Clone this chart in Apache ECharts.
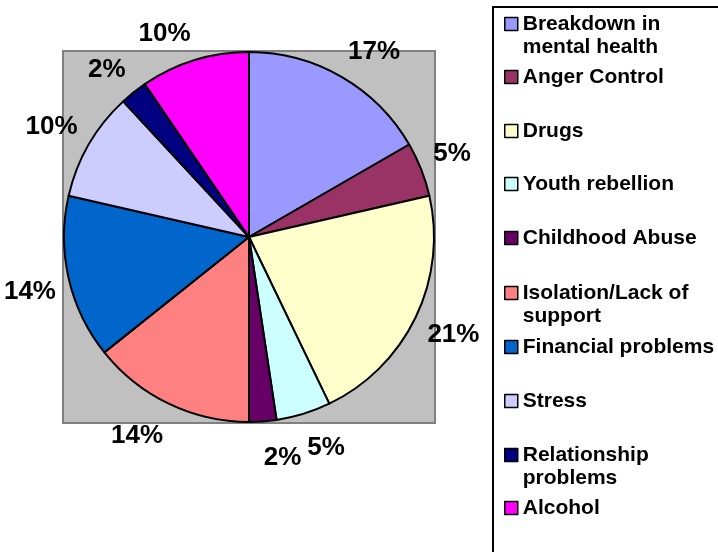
<!DOCTYPE html>
<html>
<head>
<meta charset="utf-8">
<script src="https://cdn.jsdelivr.net/npm/echarts@6/dist/echarts.min.js"></script>
<style>
  html, body { margin: 0; padding: 0; background: #ffffff; }
  #chart { width: 718px; height: 552px; }
</style>
</head>
<body>
<div id="chart"></div>
<script>
// Causes, in clockwise order from 12 o'clock
const categories = [
  'Breakdown in mental health',
  'Anger Control',
  'Drugs',
  'Youth rebellion',
  'Childhood Abuse',
  'Isolation/Lack of support',
  'Financial problems',
  'Stress',
  'Relationship problems',
  'Alcohol'
];

// Number of responses per cause (42 in total)
const responses = [7, 2, 9, 2, 1, 6, 6, 4, 1, 4];

// Legend text, wrapped the way it is printed
const legendText = [
  'Breakdown in\nmental health',
  'Anger Control',
  'Drugs',
  'Youth rebellion',
  'Childhood Abuse',
  'Isolation/Lack of\nsupport',
  'Financial problems',
  'Stress',
  'Relationship\nproblems',
  'Alcohol'
];

const palette = [
  '#9999FF', '#993366', '#FFFFCC', '#CCFFFF', '#660066',
  '#FF8080', '#0066CC', '#CCCCFF', '#000080', '#FF00FF'
];

// Layout
const CX = 249, CY = 237, R = 185;
const LABEL_GAP = 13;              // distance of the label corner beyond the rim
const STRETCH_UP = 5;              // extra push for labels above the pie
const STRETCH_DOWN = 14;           // extra push for labels below the pie
const LEGEND_X = 504;
const LEGEND_ROWS = [24, 77, 131, 184, 238, 293, 347, 401, 455, 508];
const LINE_H = 23;
const FONT = '"Liberation Sans", Arial, sans-serif';

const pieData = categories.map((name, i) => ({
  name: name,
  value: responses[i],
  itemStyle: { color: palette[i] }
}));

// One legend block per entry so wrapped names keep the marker on the first line
const legends = categories.map((name, i) => {
  const lines = legendText[i].split('\n');
  const text = lines.length > 1 ? '\n' + legendText[i] : legendText[i];
  const boxH = (lines.length > 1 ? 3 : 1) * LINE_H;
  return {
    data: [name],
    orient: 'vertical',
    left: LEGEND_X,
    top: LEGEND_ROWS[i] - boxH / 2,
    padding: 0,
    itemWidth: 13,
    itemHeight: 13,
    icon: 'rect',
    selectedMode: false,
    itemStyle: { borderColor: '#000000', borderWidth: 1.5 },
    formatter: () => text,
    textStyle: {
      fontFamily: FONT,
      fontWeight: 'bold',
      fontSize: 21,
      lineHeight: LINE_H,
      color: '#000000'
    }
  };
});

const chart = echarts.init(document.getElementById('chart'), null, { renderer: 'canvas' });

chart.setOption({
  backgroundColor: '#ffffff',
  animation: false,
  graphic: [
    {
      // plot area
      type: 'rect',
      z: 0,
      shape: { x: CX - R - 1, y: CY - R - 1, width: 2 * R + 2, height: 2 * R + 2 },
      style: { fill: '#C0C0C0', stroke: '#808080', lineWidth: 2 }
    },
    {
      // legend frame
      type: 'rect',
      z: 0,
      shape: { x: 493, y: 7, width: 260, height: 600 },
      style: { fill: '#ffffff', stroke: '#000000', lineWidth: 2 }
    }
  ],
  legend: legends,
  series: [
    {
      type: 'pie',
      z: 2,
      center: [CX, CY],
      radius: [0, R],
      startAngle: 90,
      clockwise: true,
      silent: true,
      avoidLabelOverlap: false,
      percentPrecision: 0,
      itemStyle: { borderColor: '#000000', borderWidth: 2 },
      emphasis: { disabled: true },
      label: {
        show: true,
        position: 'outside',
        distanceToLabelLine: 0,
        formatter: '{d}%',
        fontFamily: FONT,
        fontWeight: 'bold',
        fontSize: 26,
        lineHeight: 20,
        color: '#000000'
      },
      labelLine: { show: false, length: LABEL_GAP, length2: 0 },
      // hang each label off its anchor by the corner nearest the pie,
      // nudging the ones near 12 and 6 o'clock a little further out
      labelLayout: function (p) {
        const r = p.labelRect;
        const dx = r.x + r.width / 2 - CX;
        const dy = r.y + r.height / 2 - CY;
        const uy = dy / Math.sqrt(dx * dx + dy * dy);
        const stretch = dy < 0 ? STRETCH_UP : STRETCH_DOWN;
        return {
          verticalAlign: dy < 0 ? 'bottom' : 'top',
          dy: uy * Math.abs(uy) * stretch
        };
      },
      data: pieData
    }
  ]
});
</script>
</body>
</html>
